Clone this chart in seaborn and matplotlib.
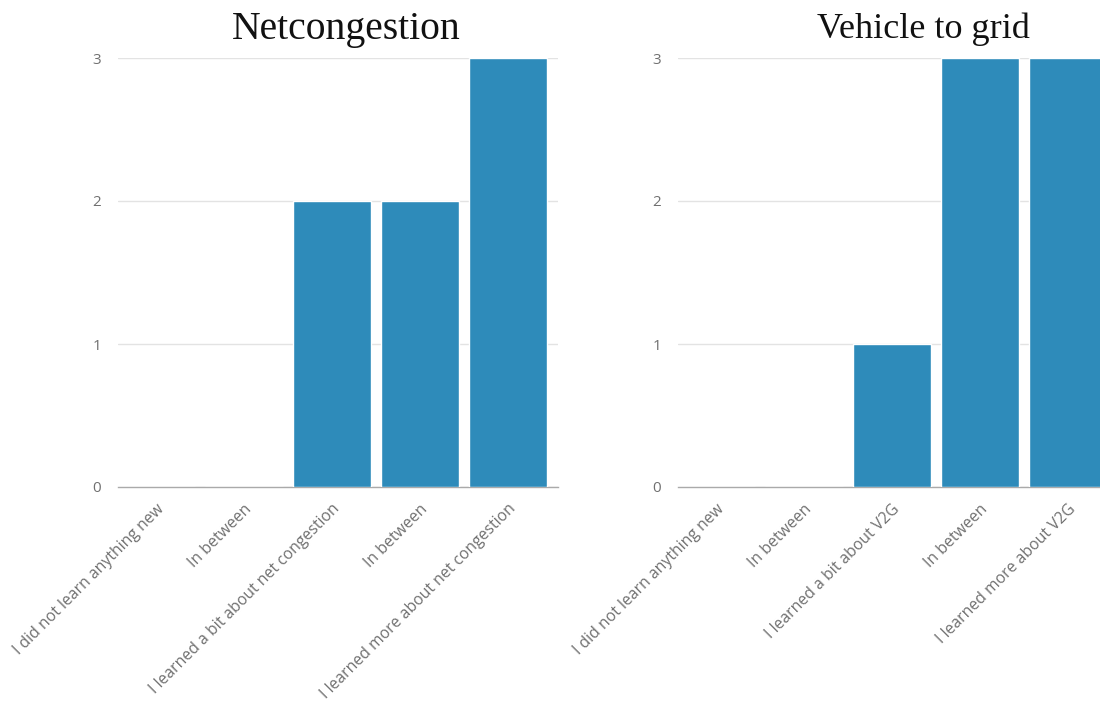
import numpy as np
import pandas as pd
import matplotlib
matplotlib.use("Agg")
import matplotlib.pyplot as plt
import matplotlib.transforms as mtransforms
import seaborn as sns

# survey answers and counts for the two topics
net_labels = ["I did not learn anything new", "In between",
              "I learned a bit about net congestion", "In between",
              "I learned more about net congestion"]
net_counts = [0, 0, 2, 2, 3]

v2g_labels = ["I did not learn anything new", "In between",
              "I learned a bit about V2G", "In between",
              "I learned more about V2G"]
v2g_counts = [0, 0, 1, 3, 3]

titles = ["Netcongestion", "Vehicle to grid"]
yticks = [0, 1, 2, 3]

sns.set_style("white")
plt.rcParams['font.family'] = ['Open Sans', 'DejaVu Sans']

bar_color = "#2e8bba"
fig = plt.figure(figsize=(11, 7.02), dpi=100)

# axes placed by hand, the right one runs past the edge like the original
ax1 = fig.add_axes([118 / 1100, 1 - 487 / 702, 440 / 1100, 429 / 702])
ax2 = fig.add_axes([678 / 1100, 1 - 487 / 702, 440 / 1100, 429 / 702])

shift = 6 / 88  # bars sit a little left of the grid start
nudge = mtransforms.ScaledTranslation(3 / 100, 0, fig.dpi_scale_trans)
for ax, labels, counts in [(ax1, net_labels, net_counts), (ax2, v2g_labels, v2g_counts)]:
    df = pd.DataFrame({"pos": np.arange(len(counts)), "count": counts})
    sns.barplot(x="pos", y="count", data=df, color=bar_color, saturation=1,
                width=0.88, ax=ax, zorder=3)
    ax.set_xlim(-0.5 + shift, len(counts) - 0.5 + shift)
    ax.set_ylim(0, 3)
    ax.set_yticks(yticks)
    ax.grid(axis="y", color="#e3e3e3", linewidth=1, zorder=0)
    for s in ["top", "right", "left"]:
        ax.spines[s].set_visible(False)
    ax.spines["bottom"].set_color("#aaaaaa")
    ax.spines["bottom"].set_linewidth(1)
    ax.set_xticks(np.arange(len(labels)))
    ax.set_xticklabels(labels, rotation=45, ha="right", rotation_mode="anchor",
                       fontsize=11.3, color="#707070")
    for lab in ax.get_xticklabels():
        lab.set_transform(lab.get_transform() + nudge)
    ax.tick_params(axis="x", length=0, pad=10)
    ax.tick_params(axis="y", length=0, pad=12, labelsize=11, labelcolor="#707070")
    ax.set_xlabel("")
    ax.set_ylabel("")

fig.text(346 / 1100, 1 - 30 / 702, titles[0], ha="center", va="center",
         fontsize=28.5, family="Liberation Serif", color="#111111")
fig.text(923 / 1100, 1 - 29 / 702, titles[1], ha="center", va="center",
         fontsize=26, family="Liberation Serif", color="#111111")

fig.savefig("out.png", dpi=100)
